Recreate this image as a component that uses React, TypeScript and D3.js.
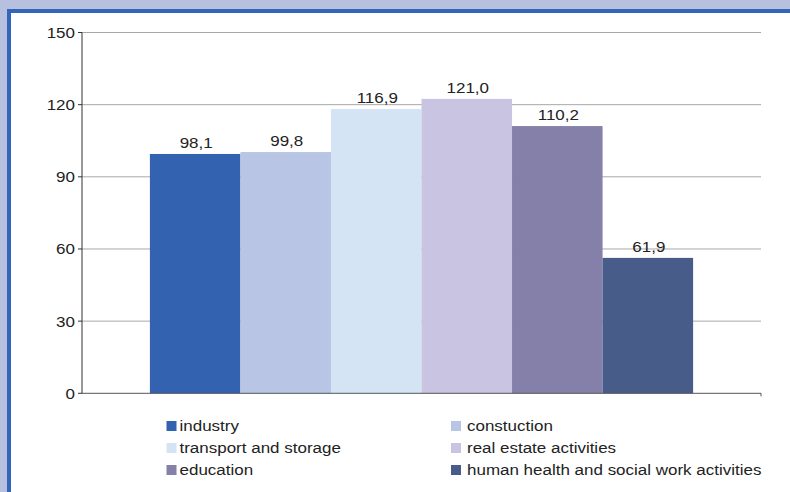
import React from "react";
import * as d3 from "d3";

const categories = [
  "industry",
  "constuction",
  "transport and storage",
  "real estate activities",
  "education",
  "human health and social work activities",
];
const barValues = [99.5, 100.3, 118.2, 122.4, 111.1, 56.3];
const labelTexts = ["98,1", "99,8", "116,9", "121,0", "110,2", "61,9"];
const colors = ["#3363b0", "#b8c5e4", "#d4e4f4", "#c8c4e1", "#8480a9", "#485c89"];
const yTicks = [0, 30, 60, 90, 120, 150];

const W = 790;
const H = 492;
const plotLeft = 82;
const plotRight = 761;
const plotTop = 32.5;
const plotBottom = 393.3;
const font = "'Liberation Sans', Arial, sans-serif";
const SX = 1.11;
const FS = 15.3;

function T(props: {
  x: number;
  y: number;
  anchor?: "start" | "middle" | "end";
  dy?: string;
  children: React.ReactNode;
}) {
  return (
    <text
      transform={`translate(${props.x},${props.y}) scale(${SX},1)`}
      dy={props.dy}
      textAnchor={props.anchor || "start"}
      fontSize={FS}
      fill="#222"
    >
      {props.children}
    </text>
  );
}

export default function App() {
  const x = d3
    .scaleBand<string>()
    .domain(categories)
    .range([plotLeft, plotRight])
    .paddingInner(0)
    .paddingOuter(0.75);
  const y = d3.scaleLinear().domain([0, 150]).range([plotBottom, plotTop]);

  const legendCols = [166.5, 451];
  const legendTextGap = [13, 16];
  const legendRows = [426, 448, 470];

  return (
    <svg
      width={W}
      height={H}
      style={{ position: "absolute", left: 0, top: 0, display: "block" }}
      fontFamily={font}
    >
      <rect x={0} y={0} width={W} height={H} fill="#b8c0e0" />
      <rect x={7} y={9} width={W - 7} height={H - 9} fill="#3366b8" />
      <rect x={11} y={13} width={W - 11} height={H - 13} fill="#ffffff" />

      {yTicks.map((t) => (
        <g key={t}>
          {t > 0 && (
            <line
              x1={plotLeft}
              x2={plotRight}
              y1={y(t)}
              y2={y(t)}
              stroke="#a8a8a8"
              strokeWidth={1}
            />
          )}
          <line x1={plotLeft - 4} x2={plotLeft} y1={y(t)} y2={y(t)} stroke="#333" />
          <T x={plotLeft - 7} y={y(t)} dy="0.36em" anchor="end">
            {t}
          </T>
        </g>
      ))}

      {categories.map((c, i) => (
        <rect
          key={c}
          x={x(c)!}
          y={y(barValues[i])}
          width={x.bandwidth()}
          height={y(0) - y(barValues[i])}
          fill={colors[i]}
        />
      ))}

      {categories.map((c, i) => (
        <T key={"l" + c} x={x(c)! + x.bandwidth() / 2 + 1} y={y(barValues[i]) - 6} anchor="middle">
          {labelTexts[i]}
        </T>
      ))}

      <line x1={plotLeft} x2={plotLeft} y1={plotTop} y2={plotBottom} stroke="#333" />
      <line x1={plotLeft - 1} x2={plotRight} y1={plotBottom} y2={plotBottom} stroke="#555" />
      <line x1={plotRight} x2={plotRight} y1={plotBottom} y2={plotBottom + 3} stroke="#555" />

      {categories.map((c, i) => {
        const col = i % 2;
        const row = Math.floor(i / 2);
        const lx = legendCols[col];
        const ly = legendRows[row];
        return (
          <g key={"lg" + c}>
            <rect x={lx} y={ly - 5} width={10} height={10} fill={colors[i]} />
            <T x={lx + legendTextGap[col]} y={ly} dy="0.35em">
              {c}
            </T>
          </g>
        );
      })}
    </svg>
  );
}
